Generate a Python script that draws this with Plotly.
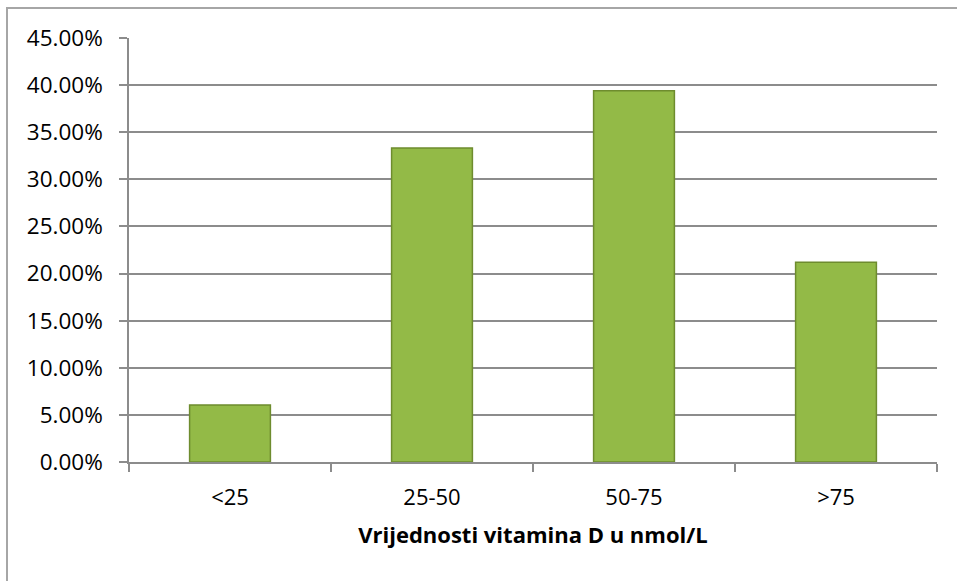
import plotly.graph_objects as go

categories = ["<25", "25-50", "50-75", ">75"]
values = [0.0606, 0.3333, 0.3939, 0.2121]
y_ticks = [0.0, 0.05, 0.10, 0.15, 0.20, 0.25, 0.30, 0.35, 0.40, 0.45]
x_title = "Vrijednosti vitamina D u nmol/L"

W, H = 957, 581
L, R, T, B = 129, 20, 38, 119
pw, ph = W - L - R, H - T - B

fig = go.Figure()
fig.add_trace(go.Bar(
    x=categories, y=values, width=0.4,
    marker=dict(color="#93BA47", line=dict(color="#6E8C2E", width=1.5)),
    hoverinfo="skip",
))

grid = "#8C8C8C"
fig.update_layout(
    width=W, height=H,
    margin=dict(l=L, r=R, t=T, b=B, pad=0, autoexpand=False),
    paper_bgcolor="white", plot_bgcolor="white",
    showlegend=False,
    font=dict(family="Open Sans", color="black", size=22),
    xaxis=dict(
        type="category",
        showline=True, linecolor=grid, linewidth=1.5,
        ticks="outside", tickson="boundaries", ticklen=8, tickcolor=grid, tickwidth=1.5,
        ticklabelstandoff=15,
        tickfont=dict(size=22),
        title=dict(text=x_title, font=dict(size=22, family="Open Sans", weight="bold"), standoff=17),
        showgrid=False,
    ),
    yaxis=dict(
        range=[0, 0.45], tickvals=y_ticks, tickformat=".2%",
        showline=True, linecolor=grid, linewidth=1.5,
        ticks="outside", ticklen=8, tickcolor=grid, tickwidth=1.5,
        ticklabelstandoff=12,
        tickfont=dict(size=22.5),
        showgrid=True, gridcolor=grid, gridwidth=1.5,
        zeroline=False,
    ),
)

# outer chart-area border (Excel style), in paper coordinates
fig.add_shape(type="rect", xref="paper", yref="paper",
              x0=(7 - L) / pw, x1=(W + 5 - L) / pw,
              y0=-(B + 5) / ph, y1=(H - 8 - B) / ph,
              line=dict(color="#A6A6A6", width=2), fillcolor="rgba(0,0,0,0)",
              layer="below")

fig.write_html("out.html", config={"displayModeBar": False},
               post_script="document.body.style.margin='0';document.body.style.overflow='hidden';")
